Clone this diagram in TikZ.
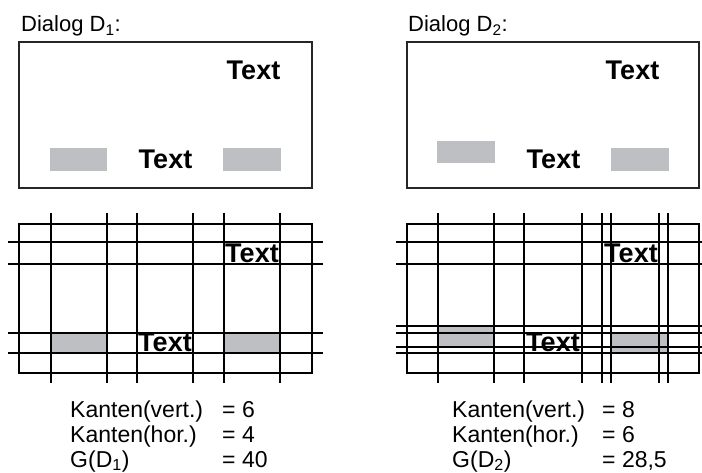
\documentclass[tikz,border=0pt]{standalone}
\usepackage{fontspec}
\setmainfont{Liberation Sans}
\usepackage{tikz}
\definecolor{fieldGray}{RGB}{190,191,195}

\tikzset{
  lbl/.style={font=\fontsize{22}{26}\selectfont, inner sep=0pt, anchor=base west},
  tbl/.style={font=\fontsize{23}{27}\selectfont, inner sep=0pt, anchor=base west},
  txt/.style={font=\fontsize{27}{30}\selectfont\bfseries, inner sep=0pt, anchor=base},
  frame/.style={line width=1.5pt, draw=black!85},
  gridline/.style={line width=1.3pt},
}

\begin{document}
\begin{tikzpicture}[x=1pt, y=-1pt]
  \useasboundingbox (0,0) rectangle (702,473);

  % Dialog D1 (top left)
  \node[lbl] (titleA) at (21,32) {Dialog D\textsubscript{1}:};
  \draw[frame] (19,42) rectangle (312,188);
  \fill[fieldGray] (50,148) rectangle (107,171);
  \fill[fieldGray] (223,148) rectangle (281,171);
  \node[txt] (textA1) at (253.5,80) {Text};
  \node[txt] (textA2) at (165.5,169) {Text};

  % Dialog D2 (top right)
  \node[lbl] (titleB) at (408,32) {Dialog D\textsubscript{2}:};
  \draw[frame] (407,42) rectangle (699,188);
  \fill[fieldGray] (437,141) rectangle (495,163);
  \fill[fieldGray] (611,148) rectangle (669,171);
  \node[txt] (textB1) at (632.5,80) {Text};
  \node[txt] (textB2) at (553.5,169) {Text};

  % Grid of D1
  \fill[fieldGray] (51,333) rectangle (107,353);
  \fill[fieldGray] (224,333) rectangle (280,353);
  \node[txt] (gridA1) at (252,263) {Text};
  \node[txt] (gridA2) at (165,352) {Text};
  \draw[gridline] (19,224) rectangle (312,373);
  \foreach \x in {51,107,137,193,224,280}
    \draw[gridline] (\x,213) -- (\x,383);
  \foreach \y in {242,264,333,353}
    \draw[gridline] (8,\y) -- (323,\y);

  % Grid of D2
  \fill[fieldGray] (438,326) rectangle (494,347);
  \fill[fieldGray] (611,333) rectangle (668,353);
  \node[txt] (gridB1) at (631,263) {Text};
  \node[txt] (gridB2) at (553,352) {Text};
  \draw[gridline] (407,224) rectangle (699,373);
  \foreach \x in {438,494,524,582,602,611,659,668}
    \draw[gridline] (\x,213) -- (\x,383);
  \foreach \y in {242,264,326,333,347,353}
    \draw[gridline] (396,\y) -- (702,\y);

  % Edge counts and grid values
  \foreach \row/\name/\val [count=\i] in {417/Kanten(vert.)/6, 442/Kanten(hor.)/4, 467/G(D\textsubscript{1})/40} {
    \node[tbl] (keyA\i) at (70,\row) {\name};
    \node[tbl] (valA\i) at (222,\row) {= \val};
  }
  \foreach \row/\name/\val [count=\i] in {417/Kanten(vert.)/8, 442/Kanten(hor.)/6, 467/G(D\textsubscript{2})/{28,5}} {
    \node[tbl] (keyB\i) at (452,\row) {\name};
    \node[tbl] (valB\i) at (602,\row) {= \val};
  }
\end{tikzpicture}
\end{document}
